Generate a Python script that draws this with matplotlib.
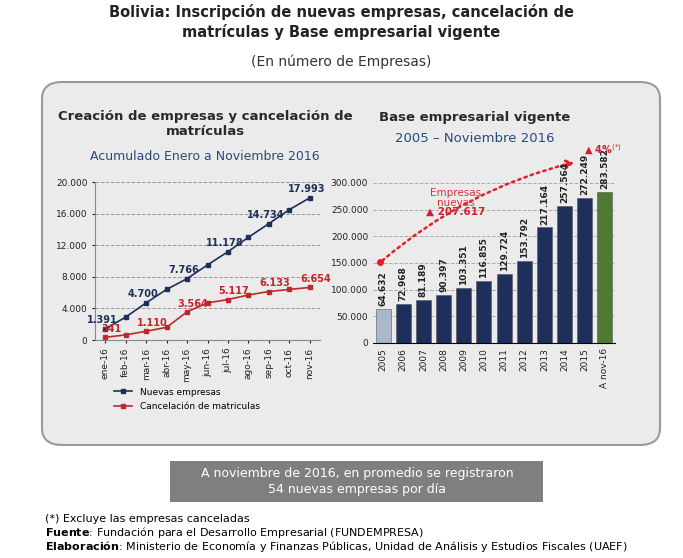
import matplotlib.pyplot as plt
from matplotlib.patches import FancyBboxPatch, Rectangle, FancyArrowPatch
import numpy as np

meses = ["ene-16", "feb-16", "mar-16", "abr-16", "may-16", "jun-16", "jul-16",
         "ago-16", "sep-16", "oct-16", "nov-16"]
nuevas = [1391, 2900, 4700, 6400, 7766, 9500, 11178, 13000, 14734, 16500, 17993]
cancel = [341, 650, 1110, 1600, 3564, 4700, 5117, 5700, 6133, 6400, 6654]
nuevas_lbl = {0: "1.391", 2: "4.700", 4: "7.766", 6: "11.178", 8: "14.734", 10: "17.993"}
cancel_lbl = {0: "341", 2: "1.110", 4: "3.564", 6: "5.117", 8: "6.133", 10: "6.654"}

anios = ["2005", "2006", "2007", "2008", "2009", "2010", "2011", "2012", "2013",
         "2014", "2015", "A nov-16"]
base = [64632, 72968, 81189, 90397, 103351, 116855, 129724, 153792, 217164,
        257564, 272249, 283582]

AZUL = "#1f2f5c"
ROJO = "#c0272d"

def fmt(v):
    return f"{v:,}".replace(",", ".")

W, H = 683, 558
fig = plt.figure(figsize=(6.83, 5.58), dpi=100)
fig.patch.set_facecolor("white")

def fx(px): return px / W
def fy(py): return 1 - py / H

# titulos
fig.text(0.5, fy(22), "Bolivia: Inscripción de nuevas empresas, cancelación de\nmatrículas y Base empresarial vigente",
         ha="center", va="center", fontsize=10.5, fontweight="bold", color="#222222", linespacing=1.3)
fig.text(0.5, fy(62), "(En número de Empresas)", ha="center", va="center", fontsize=10, color="#333333")

# panel
panel = FancyBboxPatch((fx(42), fy(445)), fx(618), fy(82) - fy(445),
                       boxstyle="round,pad=0,rounding_size=0.03", transform=fig.transFigure,
                       facecolor="#ebebeb", edgecolor="#9a9a9a", linewidth=1.5, zorder=-5)
fig.patches.append(panel)

fig.text(fx(205), fy(124), "Creación de empresas y cancelación de\nmatrículas", ha="center", va="center",
         fontsize=9.5, fontweight="bold", color="#2a2a2a", linespacing=1.2)
fig.text(fx(205), fy(156), "Acumulado Enero a Noviembre 2016", ha="center", va="center",
         fontsize=9, color="#2a4a7a")
fig.text(fx(475), fy(117), "Base empresarial vigente", ha="center", va="center",
         fontsize=9.5, fontweight="bold", color="#2a2a2a")
fig.text(fx(475), fy(139), "2005 – Noviembre 2016", ha="center", va="center",
         fontsize=9.5, color="#2a4a7a")

# linea
ax1 = fig.add_axes([fx(95), fy(340), fx(225), fy(182) - fy(340)])
ax1.set_facecolor("none")
x = np.arange(len(meses))
ax1.plot(x, nuevas, color=AZUL, marker="s", markersize=3.5, lw=1.2, label="Nuevas empresas")
ax1.plot(x, cancel, color=ROJO, marker="s", markersize=3.5, lw=1.2, label="Cancelación de matriculas")
for i, t in nuevas_lbl.items():
    ax1.text(x[i] - 0.15, nuevas[i] + 500, t, ha="center", va="bottom", fontsize=7,
             fontweight="bold", color=AZUL)
for i, t in cancel_lbl.items():
    ax1.text(x[i] + 0.3, cancel[i] + 400, t, ha="center", va="bottom", fontsize=7,
             fontweight="bold", color=ROJO)
ax1.set_ylim(0, 20000)
ax1.set_xlim(-0.5, 10.5)
ax1.set_yticks(range(0, 20001, 4000))
ax1.set_yticklabels([fmt(v) for v in range(0, 20001, 4000)], fontsize=6.5)
ax1.set_xticks(x)
ax1.set_xticklabels(meses, rotation=90, fontsize=6.5)
ax1.yaxis.grid(True, ls="--", color="#999999", lw=0.7)
ax1.set_axisbelow(True)
for s in ["top", "right"]:
    ax1.spines[s].set_visible(False)
ax1.spines["left"].set_color("#888888")
ax1.spines["bottom"].set_color("#888888")
ax1.tick_params(length=2, colors="#222222")
ax1.legend(loc="upper left", bbox_to_anchor=(0.05, -0.25), frameon=False, fontsize=6.5,
           handlelength=2, labelspacing=0.6)

# barras
ax2 = fig.add_axes([fx(373), fy(343), fx(242), fy(183) - fy(343)])
ax2.set_facecolor("none")
xb = np.arange(len(anios))
colores = ["#aab8cc"] + [AZUL] * 10 + ["#4f7a34"]
ax2.bar(xb, base, width=0.75, color=colores, edgecolor="#555555", linewidth=0.4)
for i, v in enumerate(base):
    ax2.text(xb[i], v + 5000, fmt(v), rotation=90, ha="center", va="bottom", fontsize=6.5,
             fontweight="bold", color="#222222")
ax2.set_ylim(0, 300000)
ax2.set_xlim(-0.5, 11.5)
ax2.set_yticks(range(0, 300001, 50000))
ax2.set_yticklabels([fmt(v) for v in range(0, 300001, 50000)], fontsize=6.5)
ax2.set_xticks(xb)
ax2.set_xticklabels(anios, rotation=90, fontsize=6.5)
ax2.yaxis.grid(True, ls="--", color="#aaaaaa", lw=0.7)
ax2.set_axisbelow(True)
for s in ["top", "right", "left"]:
    ax2.spines[s].set_visible(False)
ax2.tick_params(length=0, colors="#222222")
ax2.plot(-0.15, 151000, "o", color="#e0202a", markersize=4, clip_on=False)
arr = FancyArrowPatch((-0.15, 151000), (9.6, 340000), connectionstyle="arc3,rad=-0.12",
                      arrowstyle="-|>,head_length=4,head_width=2.5", color="#e0202a",
                      lw=1.8, linestyle=":", clip_on=False)
ax2.add_patch(arr)
ax2.text(3.6, 272000, "Empresas\nnuevas", ha="center", va="center", fontsize=7.5,
         color="#e0303a", linespacing=1.1)
ax2.text(3.6, 247000, "▲ 207.617", ha="center", va="center", fontsize=7.5,
         color="#d02030", fontweight="bold", family=["DejaVu Sans"])
ax2.text(10.9, 362000, "▲ 4%$^{(*)}$", ha="center", va="center", fontsize=7,
         color="#d02030", fontweight="bold")

# recuadro
fig.patches.append(Rectangle((fx(170), fy(502)), fx(373), fy(461) - fy(502),
                             transform=fig.transFigure, facecolor="#7f7f7f", edgecolor="none", zorder=-5))
fig.text(fx(357), fy(481), "A noviembre de 2016, en promedio se registraron\n54 nuevas empresas por día",
         ha="center", va="center", fontsize=9, color="white", linespacing=1.3)

# notas
fig.text(fx(45), fy(519), "(*) Excluye las empresas canceladas", fontsize=8, va="center")
fig.text(fx(45), fy(532), "$\\bf{Fuente}$: Fundación para el Desarrollo Empresarial (FUNDEMPRESA)", fontsize=8, va="center")
fig.text(fx(45), fy(546), "$\\bf{Elaboración}$: Ministerio de Economía y Finanzas Públicas, Unidad de Análisis y Estudios Fiscales (UAEF)",
         fontsize=8, va="center")

fig.savefig("out.png", dpi=100)
